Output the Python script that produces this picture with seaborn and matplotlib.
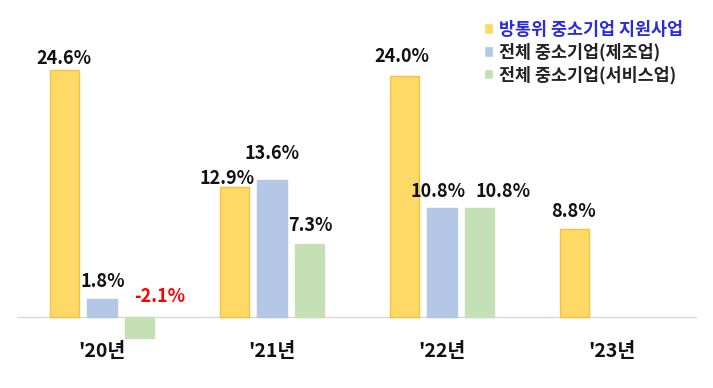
import pandas as pd
import numpy as np
import matplotlib
matplotlib.use("Agg")
import matplotlib.pyplot as plt
import seaborn as sns

years = ["'20년", "'21년", "'22년", "'23년"]
series = ["방통위 중소기업 지원사업", "전체 중소기업(제조업)", "전체 중소기업(서비스업)"]
support = [24.6, 12.9, 24.0, 8.8]
manufacturing = [1.8, 13.6, 10.8, np.nan]
service = [-2.1, 7.3, 10.8, np.nan]

colors = ["#FFD966", "#B4C7E7", "#C5E0B4"]
edges = ["#F5C242", "#B4C7E7", "#C5E0B4"]

rows = []
for name, vals in zip(series, [support, manufacturing, service]):
    for y, v in zip(years, vals):
        rows.append({"연도": y, "구분": name, "값": v})
df = pd.DataFrame(rows)

sns.set_style("white")
plt.rcParams["font.family"] = ["Noto Sans CJK KR", "DejaVu Sans"]

fig = plt.figure(figsize=(7.13, 3.88), dpi=100)
ax = fig.add_axes([17 / 713, 46 / 388, 680 / 713, 342 / 388])

sns.barplot(data=df, x="연도", y="값", hue="구분", hue_order=series,
            palette=colors, saturation=1, width=0.66, gap=0.22, ax=ax,
            legend=True)

for i, cont in enumerate(ax.containers):
    for bar in cont:
        bar.set_edgecolor(edges[i])
        bar.set_linewidth(1.0)

ax.set_xlim(-0.5, 3.5)
ax.set_ylim(-2.5, 31.57)
ax.axhline(0, color="#D9D9D9", lw=1, zorder=0)

# label offsets in pixels (dx, dy) from the top centre of each bar
offsets = {(0, 0): (-1, 11), (1, 0): (1, 17), (2, 0): (20, 20),
           (0, 1): (-8, 9), (1, 1): (0, 27), (2, 1): (1, 18),
           (0, 2): (-3, 19), (1, 2): (-4, 17), (2, 2): (24, 17),
           (0, 3): (-1, 17)}

for i, cont in enumerate(ax.containers):
    for bar in cont:
        h = bar.get_height()
        if np.isnan(h):
            continue
        xc = bar.get_x() + bar.get_width() / 2
        j = int(round(xc))
        dx, dy = offsets.get((i, j), (0, 17))
        top = max(h, 0)
        ax.annotate(f"{h:.1f}%", (xc, top), xytext=(dx, dy),
                    textcoords="offset pixels", ha="center", va="center",
                    fontsize=13, fontweight="bold",
                    color="#FF0000" if h < 0 else "#111111")

ax.set_xlabel("")
ax.set_ylabel("")
ax.set_yticks([])
ax.tick_params(axis="x", length=0, pad=0)
for lab in ax.get_xticklabels():
    lab.set_fontsize(14)
    lab.set_fontweight("bold")
    lab.set_color("#111111")
sns.despine(ax=ax, left=True, bottom=True)

leg = ax.legend(loc="upper left", bbox_to_anchor=(468 / 713, 1 - 5 / 388),
                bbox_transform=fig.transFigure, frameon=False,
                handlelength=0.55, handleheight=0.55, handletextpad=0.35,
                labelspacing=0.25, prop={"size": 12.5, "weight": "bold"})
leg.get_texts()[0].set_color("#2B2BE0")
for t in leg.get_texts()[1:]:
    t.set_color("#222222")

fig.savefig("out.png", dpi=100)
